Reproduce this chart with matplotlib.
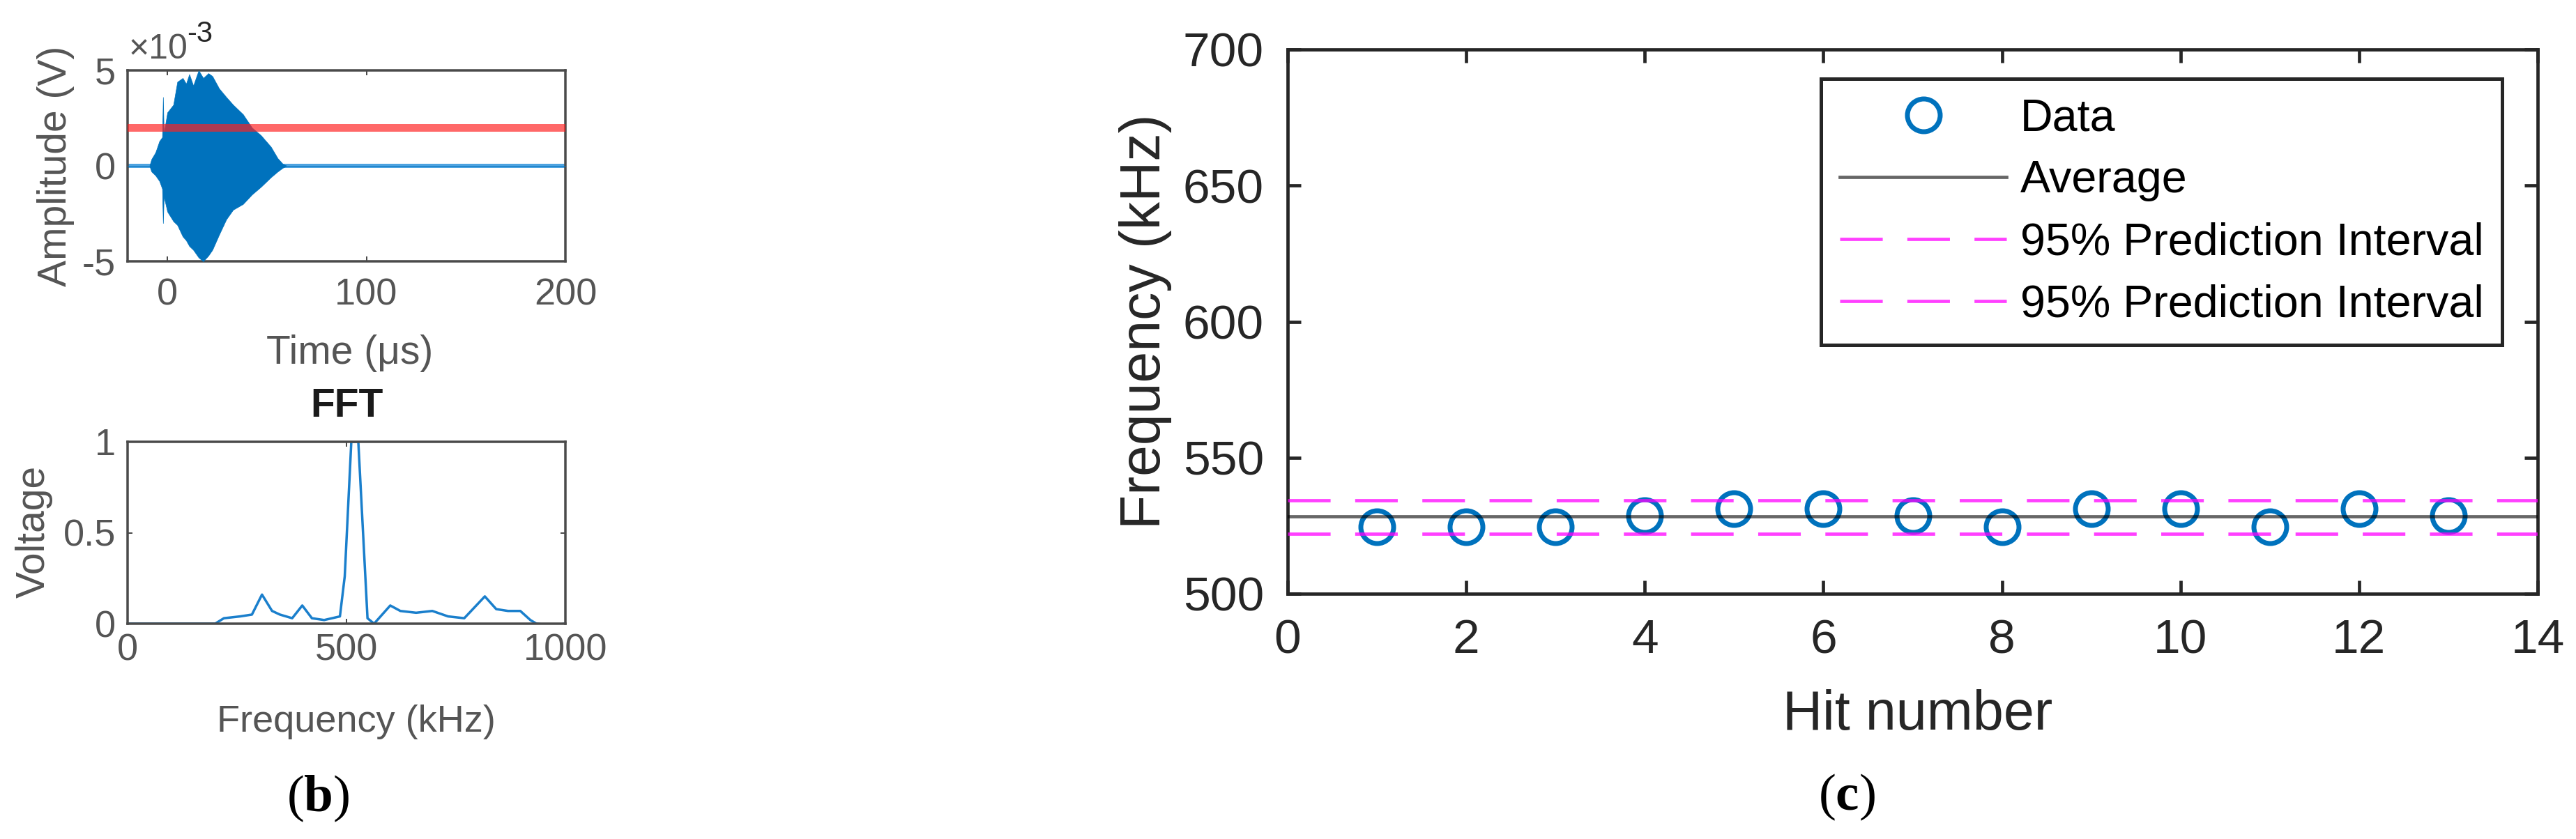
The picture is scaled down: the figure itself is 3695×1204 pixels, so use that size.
import matplotlib
matplotlib.use('Agg')
import matplotlib.pyplot as plt

# ---------------- data ----------------
# (b) top: burst envelope (amplitude in 1e-3 V)
burst_t = [-20, -9, -8, -6, -4, -2.6, -2.2, -1.8, 0, 3, 5, 7.7, 9.4, 11, 13, 15.7, 18,
           20.6, 22.6, 26, 29.6, 33, 38, 42.5, 47, 52, 55.4, 58, 60, 200]
burst_upper = [0, 0, 0.35, 0.7, 1.3, 1.5, 3.6, 1.7, 2.8, 3.2, 4.4, 4.6, 4.3, 4.8, 4.2, 5.0, 4.6,
               4.85, 4.7, 4.05, 3.6, 3.2, 2.7, 2.0, 1.6, 1.0, 0.4, 0.1, 0, 0]
burst_lower = [0, 0, -0.3, -0.5, -0.8, -1.2, -3.0, -1.6, -2.4, -2.9, -3.1, -3.7, -3.9, -4.2, -4.4, -4.8, -5.0,
               -4.7, -4.4, -3.6, -2.8, -2.3, -2.0, -1.5, -1.1, -0.6, -0.3, -0.1, 0, 0]
baseline_t = [-20, 200]
baseline_amp = [0, 0]
threshold = 2.0
time_ticks = [0, 100, 200]
amp_ticks = [-5, 0, 5]

# (b) bottom: FFT
fft_freq = [0, 200, 220, 257, 284, 307, 330, 348, 376, 399, 421, 449, 485, 496, 511, 527,
            548, 563, 600, 623, 659, 696, 732, 769, 816, 842, 869, 897, 920, 934, 970, 1000]
fft_volt = [0, 0, 0.03, 0.04, 0.05, 0.16, 0.07, 0.05, 0.03, 0.10, 0.03, 0.02, 0.04, 0.26, 1.0, 1.0,
            0.03, 0.0, 0.10, 0.07, 0.06, 0.07, 0.04, 0.03, 0.15, 0.08, 0.07, 0.07, 0.02, 0.0, -0.01, 0.0]
fft_xticks = [0, 500, 1000]
fft_yticks = [0, 0.5, 1]

# (c)
hits = [1, 2, 3, 4, 5, 6, 7, 8, 9, 10, 11, 12, 13]
hit_freq = [524.6, 524.6, 524.6, 528.8, 531.3, 531.3, 528.8, 524.6, 531.3, 531.3, 524.6, 531.3, 528.8]
average = 528.3
pi_upper = 534.4
pi_lower = 521.9
hit_xticks = [0, 2, 4, 6, 8, 10, 12, 14]
hit_yticks = [500, 550, 600, 650, 700]

# ---------------- figure ----------------
W, H = 3695, 1204
DPI = 100
PT = 72 / DPI

plt.rcParams['font.family'] = ['Liberation Sans', 'DejaVu Sans']
plt.rcParams['axes.unicode_minus'] = False
plt.rcParams['mathtext.fontset'] = 'custom'
plt.rcParams['mathtext.rm'] = 'Liberation Serif'
plt.rcParams['mathtext.bf'] = 'Liberation Serif:bold'

fig = plt.figure(figsize=(W / DPI, H / DPI), dpi=DPI)


def rect(l, t, r, b):
    return [l / W, 1 - b / H, (r - l) / W, (b - t) / H]


def ftext(x, y, s, **kw):
    fig.text(x / W, 1 - y / H, s, **kw)


LGREY = '#555555'
DARK = '#262626'

# ---- (b) top: time signal ----
ax1 = fig.add_axes(rect(183, 101, 811, 375))
ax1.plot(baseline_t, baseline_amp, color='#4EA3E0', lw=6 * PT, zorder=2)
ax1.fill_between(burst_t, burst_lower, burst_upper, color='#0072BD', lw=0.5, edgecolor='#0072BD', zorder=3)
ax1.axhline(threshold, color='#FF2020', alpha=0.68, lw=11 * PT, zorder=4)
ax1.set_xlim(-20, 200)
ax1.set_ylim(-5, 5)
ax1.set_xticks(time_ticks)
ax1.set_yticks(amp_ticks)

# ---- (b) bottom: FFT ----
ax2 = fig.add_axes(rect(183, 634, 811, 895))
ax2.plot(fft_freq, fft_volt, color='#1A7FCC', lw=3.5 * PT)
ax2.set_xlim(0, 1000)
ax2.set_ylim(0, 1)
ax2.set_xticks(fft_xticks)
ax2.set_yticks(fft_yticks)
ax2.set_yticklabels(['0', '0.5', '1'])

for ax in (ax1, ax2):
    for s in ax.spines.values():
        s.set_color('#4a4a4a')
        s.set_linewidth(3.5 * PT)
    ax.tick_params(direction='in', length=7 * PT, width=2 * PT, color='#4a4a4a',
                   top=True, right=True, labelsize=39, labelcolor=LGREY)
ax1.tick_params(axis='x', pad=23 * PT)
ax1.tick_params(axis='y', pad=17 * PT)
ax2.tick_params(axis='x', pad=14 * PT)
ax2.tick_params(axis='y', pad=17 * PT)

ftext(185, 84, '\u00d710', fontsize=36, color=LGREY, ha='left', va='baseline')
ftext(268, 60, '-3', fontsize=30, color=DARK, ha='left', va='baseline')
ftext(80, 238, 'Amplitude (V)', fontsize=41, color=LGREY, rotation=90, ha='center', va='center')
ftext(502, 507, 'Time (\u03bcs)', fontsize=41, color=LGREY, ha='center', va='center')
ftext(497, 583, 'FFT', fontsize=41, fontweight='bold', color='#1a1a1a', ha='center', va='center')
ftext(49, 763, 'Voltage', fontsize=41, color=LGREY, rotation=90, ha='center', va='center')
ftext(511, 1036, 'Frequency (kHz)', fontsize=39, color=LGREY, ha='center', va='center')
ftext(456, 1146, r'$(\mathbf{b})$', fontsize=54, color='black', ha='center', va='center')

# ---- (c) ----
ax3 = fig.add_axes(rect(1847, 71, 3640, 852))
ax3.plot(hits, hit_freq, linestyle='none', marker='o', mfc='none', mec='#0072BD',
         ms=47 * PT, mew=7 * PT, label='Data', zorder=3)
ax3.axhline(average, color='black', alpha=0.6, lw=4.7 * PT, label='Average', zorder=4)
ax3.axhline(pi_upper, color='#FF00FF', alpha=0.75, lw=4.7 * PT, ls=(0, (13, 7.5)),
            label='95% Prediction Interval', zorder=4)
ax3.axhline(pi_lower, color='#FF00FF', alpha=0.75, lw=4.7 * PT, ls=(0, (13, 7.5)),
            label='95% Prediction Interval', zorder=4)
ax3.set_xlim(0, 14)
ax3.set_ylim(500, 700)
ax3.set_xticks(hit_xticks)
ax3.set_yticks(hit_yticks)
for s in ax3.spines.values():
    s.set_color(DARK)
    s.set_linewidth(4.7 * PT)
ax3.tick_params(direction='in', length=19 * PT, width=4.7 * PT, color=DARK,
                top=True, right=True, labelsize=50, labelcolor=DARK)
ax3.tick_params(axis='x', pad=35 * PT)
ax3.tick_params(axis='y', pad=34 * PT)

leg = ax3.legend(loc='upper left', bbox_to_anchor=(0.4267, 0.946), borderaxespad=0,
                 fontsize=46.5, frameon=True, fancybox=False, handlelength=3.7,
                 handletextpad=0.3, labelspacing=0.45, borderpad=0.42, framealpha=1)
leg.get_frame().set_edgecolor(DARK)
leg.get_frame().set_linewidth(5 * PT)
for t in leg.get_texts():
    t.set_color('black')

ftext(1643, 461, 'Frequency (kHz)', fontsize=58, color=DARK, rotation=90, ha='center', va='center')
ftext(2751, 1026, 'Hit number', fontsize=57, color=DARK, ha='center', va='center')
ftext(2649, 1144, r'$(\mathbf{c})$', fontsize=54, color='black', ha='center', va='center')

fig.savefig('out.png', dpi=DPI)
